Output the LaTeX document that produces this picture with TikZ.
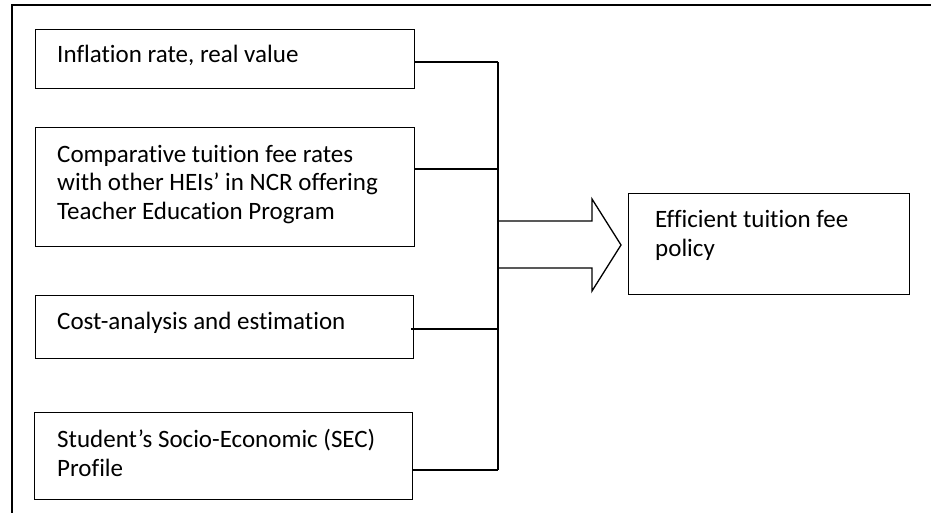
\documentclass[tikz,border=0pt]{standalone}
\usepackage{fontspec}
\setmainfont{Carlito}[Ligatures=NoCommon]
\begin{document}
\begin{tikzpicture}[x=1pt,y=-1pt,
  box/.style={draw=black,line width=1.4pt,anchor=north west,inner sep=0pt},
  txt/.style={anchor=base west,align=left,inner sep=0pt,font=\fontsize{25}{28.5}\selectfont},
  wire/.style={draw=black,line width=1.3pt},
  frame/.style={draw=black,line width=2pt}]
\useasboundingbox (0,0) rectangle (931,513);
% outer frame (cropped)
\draw[frame] (12,513) -- (12,5) -- (931,5);
% input boxes
\node[box,minimum width=379pt,minimum height=59pt] (b1) at (35,29) {};
\node[box,minimum width=379pt,minimum height=119pt] (b2) at (35,127) {};
\node[box,minimum width=378pt,minimum height=63pt] (b3) at (35,295) {};
\node[box,minimum width=378pt,minimum height=87pt] (b4) at (34,412) {};
\node[box,minimum width=281pt,minimum height=101pt] (out) at (628,193) {};
% texts (base anchor = baseline of the last line)
\node[txt] (t1) at (57,63) {Inflation rate, real value};
\node[txt] (t2) at (57,219) {Comparative tuition fee rates\\with other HEIs’ in NCR offering\\Teacher Education Program};
\node[txt] (t3) at (57,329) {Cost-analysis and estimation};
\node[txt] (t4) at (57,476) {Student’s Socio-Economic (SEC)\\Profile};
\node[txt] (t5) at (655,256) {Efficient tuition fee\\policy};
% bus
\coordinate (c1) at (498,62);
\coordinate (c2) at (498,169);
\coordinate (c3) at (498,329);
\coordinate (c4) at (498,470);
\draw[wire] (c1) -- (c4);
\draw[wire] (c1 -| b1.east) -- (c1);
\draw[wire] (c2 -| b2.east) -- (c2);
\draw[wire] ([xshift=-3pt]c3 -| b3.east) -- (c3);
\draw[wire] (c4 -| b4.east) -- (c4);
% block arrow
\coordinate (a0) at (498,221);
\coordinate (a1) at (498,268);
\draw[wire,line join=miter] (a0) -- (592,221) -- (592,199) -- (621,245) -- (592,291) -- (592,268) -- (a1);
\end{tikzpicture}
\end{document}
